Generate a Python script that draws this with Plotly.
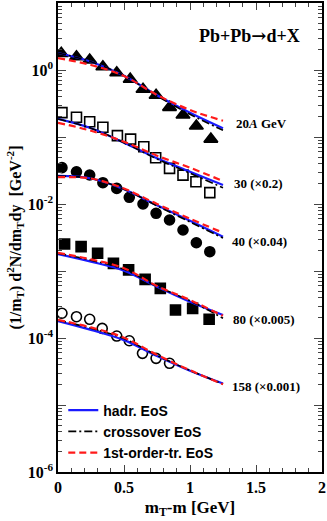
import math
import plotly.graph_objects as go

# data points (mT-m in GeV, spectra already scaled)
x_20 = [0.025, 0.14, 0.24, 0.34, 0.445, 0.547, 0.644, 0.743, 0.845, 0.947, 1.048, 1.158]
y_20 = [1.77, 1.58, 1.41, 1.12, 0.91, 0.73, 0.515, 0.42, 0.277, 0.213, 0.146, 0.093]

x_30 = [0.03, 0.14, 0.24, 0.34, 0.45, 0.55, 0.65, 0.74, 0.845, 0.947, 1.045, 1.15]
y_30 = [0.231, 0.197, 0.169, 0.14, 0.105, 0.093, 0.0716, 0.049, 0.034, 0.027, 0.0215, 0.0148]

x_40 = [0.03, 0.14, 0.24, 0.34, 0.445, 0.54, 0.644, 0.743, 0.845, 0.947, 1.048, 1.15]
y_40 = [0.0349, 0.0303, 0.0271, 0.0208, 0.0171, 0.0126, 0.0100, 0.00726, 0.00577, 0.00409, 0.00264, 0.00194]

x_80 = [0.05, 0.175, 0.30, 0.42, 0.535, 0.66, 0.775, 0.89, 1.02, 1.145]
y_80 = [0.00253, 0.00231, 0.00184, 0.0013, 0.00104, 0.00075, 0.00055, 0.000262, 0.000277, 0.00019]

x_158 = [0.03, 0.14, 0.24, 0.335, 0.445, 0.54, 0.64, 0.743, 0.845]
y_158 = [0.000234, 0.000208, 0.00019, 0.000139, 0.000107, 9.1e-5, 5.9e-5, 4.97e-5, 4.19e-5]

# model curves
mt = [0.0, 0.25, 0.5, 0.75, 1.0, 1.25]
hadr = {
    "20": [1.795, 1.33, 0.82, 0.42, 0.23, 0.135],
    "30": [0.186, 0.135, 0.0822, 0.048, 0.0303, 0.0192],
    "40": [0.0262, 0.0240, 0.0166, 0.00955, 0.00562, 0.00324],
    "80": [0.00179, 0.00138, 0.00101, 0.000583, 0.000348, 0.00022],
    "158": [1.79e-4, 1.32e-4, 9.3e-5, 5.4e-5, 3.25e-5, 2.09e-5],
}
cross = {
    "20": [1.795, 1.33, 0.82, 0.41, 0.218, 0.126],
    "30": [0.186, 0.135, 0.0822, 0.047, 0.0288, 0.0175],
    "40": [0.0262, 0.0240, 0.0166, 0.0094, 0.0054, 0.0031],
    "80": [0.00183, 0.00145, 0.00106, 0.00059, 0.00036, 0.000197],
    "158": [1.84e-4, 1.40e-4, 9.8e-5, 5.5e-5, 3.28e-5, 2.06e-5],
}
first = {
    "20": [1.50, 1.19, 0.813, 0.424, 0.253, 0.175],
    "30": [0.163, 0.124, 0.0851, 0.0526, 0.0348, 0.0220],
    "40": [0.0251, 0.0240, 0.0170, 0.0100, 0.00603, 0.00372],
    "80": [0.00187, 0.00149, 0.0011, 0.000597, 0.000369, 0.000214],
    "158": [1.86e-4, 1.44e-4, 1.01e-4, 5.6e-5, 3.3e-5, 2.04e-5],
}

label_x = [1.33, 1.32, 1.30, 1.31, 1.30]
label_y = [0.16, 0.0205, 0.00277, 0.00019, 1.88e-5]
label_txt = ["20<i>A</i> GeV", "30 (×0.2)", "40 (×0.04)", "80 (×0.005)", "158 (×0.001)"]

SERIF = "Liberation Serif"

fig = go.Figure()

pts = [
    (x_20, y_20, "triangle-up", 12),
    (x_30, y_30, "square-open", 10),
    (x_40, y_40, "circle", 10),
    (x_80, y_80, "square", 10),
    (x_158, y_158, "circle-open", 10),
]
for xs, ys, sym, sz in pts:
    fig.add_trace(go.Scatter(x=xs, y=ys, mode="markers", showlegend=False,
                             marker=dict(symbol=sym, size=sz, color="black",
                                         line=dict(color="black", width=1.6))))

styles = [
    ("hadr. EoS", hadr, dict(color="#1a1aff", width=2.2, dash="solid")),
    ("crossover EoS", cross, dict(color="black", width=1.6, dash="8px,3px,2px,3px")),
    ("1st-order-tr. EoS", first, dict(color="#ff1a1a", width=2.2, dash="7px,4px")),
]
for name, curves, ln in styles:
    for i, key in enumerate(curves):
        fig.add_trace(go.Scatter(x=mt, y=curves[key], mode="lines", line=ln,
                                 line_shape="spline", name=name, legendgroup=name,
                                 showlegend=(i == 0)))

# labels (annotations on a log axis take log10 positions)
lab_font = dict(family=SERIF, size=13, color="black", weight="bold")
for x, y, t in zip(label_x, label_y, label_txt):
    fig.add_annotation(x=x, y=math.log10(y), text=t, showarrow=False,
                       xanchor="left", font=lab_font)
fig.add_annotation(x=0.925, y=0.957, xref="paper", yref="paper",
                   text="Pb+Pb<span style='font-family:DejaVu Serif'>→</span>d+X",
                   showarrow=False, xanchor="right",
                   font=dict(family=SERIF, size=18, color="black", weight="bold"))

decades = [1e-6, 1e-5, 1e-4, 1e-3, 1e-2, 1e-1, 1, 10]
dec_txt = ["10<sup>-6</sup>", "", "10<sup>-4</sup>", "", "10<sup>-2</sup>", "",
           "10<sup>0</sup>", ""]
minor_vals = [m * d for d in decades[:-1] for m in range(2, 10)]

tick_font = dict(family=SERIF, size=16, color="black", weight="bold")
fig.update_xaxes(range=[0, 2], tickvals=[0, 0.5, 1, 1.5, 2],
                 ticktext=["0", "0.5", "1", "1.5", "2"],
                 ticks="inside", ticklen=7, tickwidth=1, showline=True,
                 linecolor="black", linewidth=1.5, mirror="ticks",
                 showgrid=False, zeroline=False, tickfont=tick_font, automargin=False,
                 minor=dict(dtick=0.1, ticks="inside", ticklen=4, showgrid=False),
                 title=dict(text="m<sub>T</sub>-m [GeV]", standoff=6,
                            font=dict(family=SERIF, size=17, color="black", weight="bold")))
fig.update_yaxes(type="log", range=[-6, 1], tickvals=decades, ticktext=dec_txt,
                 ticks="inside", ticklen=8, tickwidth=1, showline=True,
                 linecolor="black", linewidth=1.5, mirror="ticks",
                 showgrid=False, zeroline=False, tickfont=tick_font, automargin=False,
                 minor=dict(tickvals=minor_vals, ticks="inside", ticklen=4, showgrid=False),
                 title=dict(text="(1/m<sub>T</sub>) d<sup>2</sup>N/dm<sub>T</sub>dy  [GeV<sup>-2</sup>]",
                            standoff=2,
                            font=dict(family=SERIF, size=16, color="black", weight="bold")))

fig.update_layout(
    width=327, height=521,
    margin=dict(l=58, r=5, t=3, b=49),
    plot_bgcolor="white", paper_bgcolor="white",
    legend=dict(x=0.02, y=0.165, xanchor="left", yanchor="top",
                bgcolor="rgba(0,0,0,0)", tracegroupgap=0,
                font=dict(family="Liberation Sans", size=14, color="black", weight="bold")),
)

fig.write_html("out.html", config={"displayModeBar": False},
               post_script="document.body.style.margin='0';")
